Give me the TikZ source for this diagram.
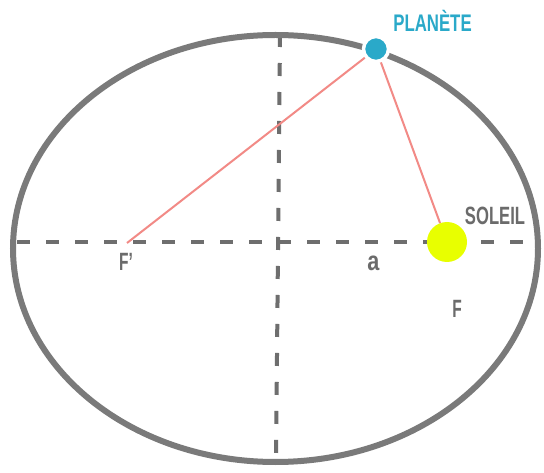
\documentclass[tikz,border=0pt]{standalone}
\usepackage{fontspec}
\usepackage{graphicx}
\setmainfont{Liberation Sans}
\definecolor{orbit}{HTML}{7A7A7A}
\definecolor{axis}{HTML}{6E6E6E}
\definecolor{lbl}{HTML}{6B6B6B}
\definecolor{cyanp}{HTML}{2AA9C9}
\definecolor{sunc}{HTML}{E8FF00}
\definecolor{redl}{HTML}{F28A86}
\newcommand{\cond}[2]{\scalebox{#1}[1]{#2}}
\tikzset{
  axisline/.style={draw=axis, line width=4pt, dash pattern=on 13pt off 16pt},
  rayline/.style={draw=redl, line width=2pt},
  lab/.style={text=lbl, font=\fontsize{25}{25}\selectfont\bfseries, inner sep=0pt, anchor=base},
}
\begin{document}
\begin{tikzpicture}[x=1pt,y=-1pt]
\useasboundingbox (0,0) rectangle (544,473);
\fill[white] (0,0) rectangle (544,473);
% axes
\coordinate (hl) at (17,242);
\coordinate (hr) at (536,242);
\coordinate (vt) at (280,37);
\coordinate (vb) at (276,462);
\draw[axisline] (hl) -- (hr);
\draw[axisline, dash phase=3pt] (vt) -- (vb);
% orbit
\draw[orbit, line width=6pt] (275.5,248.5) ellipse [x radius=262.5, y radius=213.5];
% foci and planet
\coordinate (fp) at (127,243);
\node[circle, fill=sunc, minimum size=40pt, inner sep=0pt] (sun) at (447,242) {};
\node[circle, fill=cyanp, draw=white, line width=3.5pt, minimum size=25pt, inner sep=0pt] (planet) at (376,49) {};
\draw[rayline] (fp) -- (planet);
\draw[rayline] (planet) -- (sun);
% labels
\node[lab, text=cyanp, font=\fontsize{24}{24}\selectfont\bfseries] (tplan) at (432.5,32) {\cond{0.70}{PLANÈTE}};
\node[lab] (tsol) at (495,225) {\cond{0.665}{SOLEIL}};
\node[lab] (tfp) at (126,271) {\cond{0.62}{F'}};
\node[lab, font=\fontsize{27}{27}\selectfont\bfseries] (ta) at (373.5,271) {\cond{0.8}{a}};
\node[lab] (tf) at (457,318) {\cond{0.62}{F}};
\end{tikzpicture}
\end{document}
